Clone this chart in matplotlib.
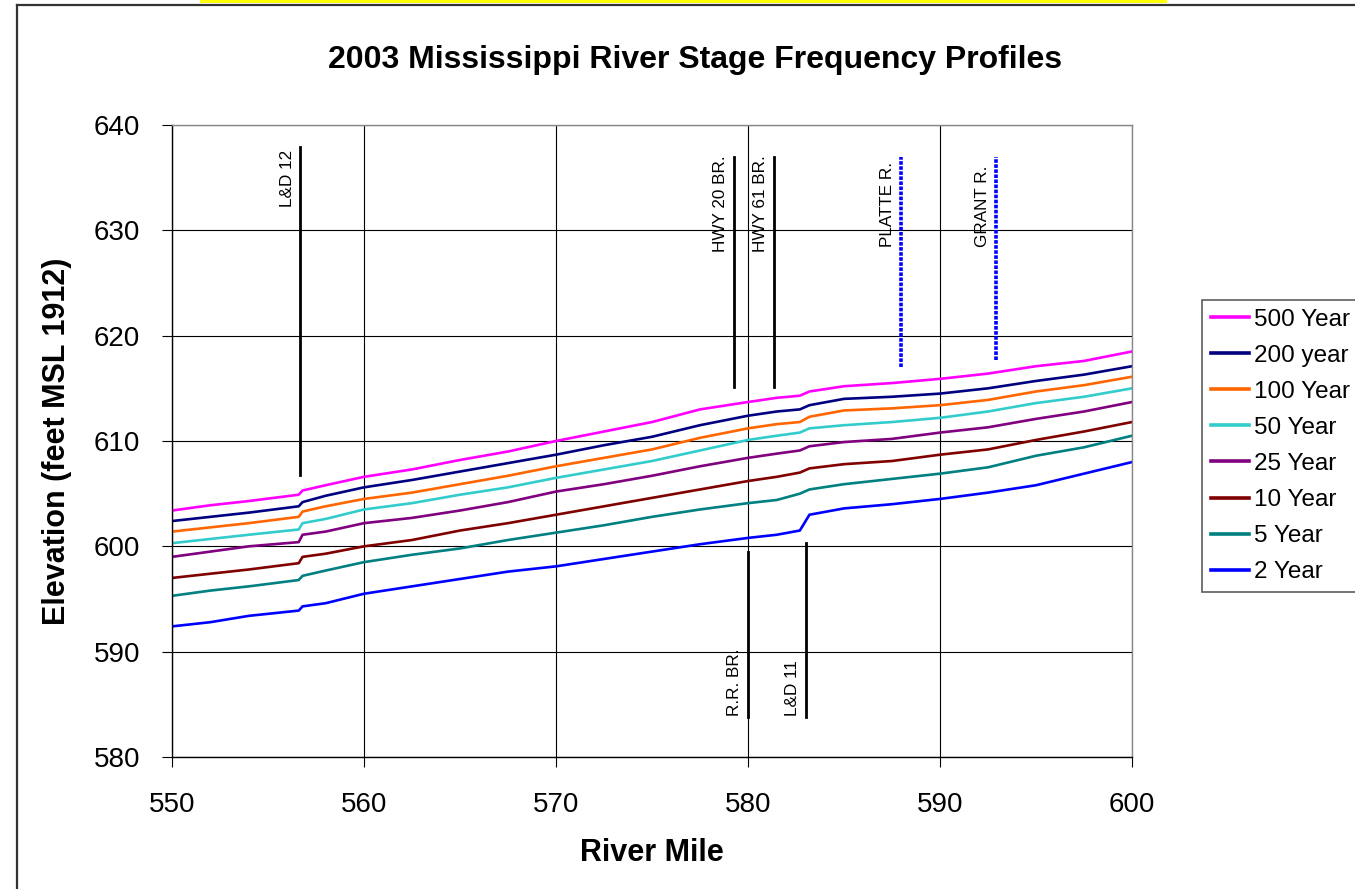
import matplotlib
matplotlib.use("Agg")
import matplotlib.pyplot as plt
from matplotlib.lines import Line2D
from matplotlib.patches import Rectangle
from matplotlib.transforms import offset_copy

plt.rcParams['font.family'] = ['Liberation Sans', 'DejaVu Sans']

# ---------------- data ----------------
miles = [550, 552, 554, 556.6, 556.8, 558, 560, 562.5, 565, 567.5, 570, 572.5,
         575, 577.5, 580, 581.5, 582.7, 583.2, 585, 587.5, 590, 592.5, 595, 597.5, 600]

yr500 = [603.4, 603.9, 604.3, 604.9, 605.3, 605.8, 606.6, 607.3, 608.2, 609.0, 610.0, 610.9,
         611.8, 613.0, 613.7, 614.1, 614.3, 614.7, 615.2, 615.5, 615.9, 616.4, 617.1, 617.6, 618.5]
yr200 = [602.4, 602.8, 603.2, 603.8, 604.2, 604.8, 605.6, 606.3, 607.1, 607.9, 608.7, 609.6,
         610.4, 611.5, 612.4, 612.8, 613.0, 613.4, 614.0, 614.2, 614.5, 615.0, 615.7, 616.3, 617.1]
yr100 = [601.4, 601.8, 602.2, 602.8, 603.3, 603.8, 604.5, 605.1, 605.9, 606.7, 607.6, 608.4,
         609.2, 610.3, 611.2, 611.6, 611.8, 612.3, 612.9, 613.1, 613.4, 613.9, 614.7, 615.3, 616.1]
yr50 = [600.3, 600.7, 601.1, 601.6, 602.2, 602.6, 603.5, 604.1, 604.9, 605.6, 606.5, 607.3,
        608.1, 609.1, 610.1, 610.5, 610.8, 611.2, 611.5, 611.8, 612.2, 612.8, 613.6, 614.2, 615.0]
yr25 = [599.0, 599.5, 600.0, 600.4, 601.1, 601.4, 602.2, 602.7, 603.4, 604.2, 605.2, 605.9,
        606.7, 607.6, 608.4, 608.8, 609.1, 609.5, 609.9, 610.2, 610.8, 611.3, 612.1, 612.8, 613.7]
yr10 = [597.0, 597.4, 597.8, 598.4, 599.0, 599.3, 600.0, 600.6, 601.5, 602.2, 603.0, 603.8,
        604.6, 605.4, 606.2, 606.6, 607.0, 607.4, 607.8, 608.1, 608.7, 609.2, 610.1, 610.9, 611.8]
yr5 = [595.3, 595.8, 596.2, 596.8, 597.2, 597.7, 598.5, 599.2, 599.8, 600.6, 601.3, 602.0,
       602.8, 603.5, 604.1, 604.4, 605.0, 605.4, 605.9, 606.4, 606.9, 607.5, 608.6, 609.4, 610.5]
yr2 = [592.4, 592.8, 593.4, 593.9, 594.3, 594.6, 595.5, 596.2, 596.9, 597.6, 598.1, 598.8,
       599.5, 600.2, 600.8, 601.1, 601.5, 603.0, 603.6, 604.0, 604.5, 605.1, 605.8, 606.9, 608.0]

series_names = ['500 Year', '200 year', '100 Year', '50 Year', '25 Year', '10 Year', '5 Year', '2 Year']
series_vals = [yr500, yr200, yr100, yr50, yr25, yr10, yr5, yr2]
series_colors = ['#FF00FF', '#000080', '#FF6600', '#33CCCC', '#800080', '#800000', '#008080', '#0000FF']

# landmark markers: label, river mile, y-start, y-end, label bottom
mark_labels = ['L&D 12', 'HWY 20 BR.', 'HWY 61 BR.', 'PLATTE R.', 'GRANT R.', 'R.R. BR.', 'L&D 11']
mark_miles = [556.67, 579.27, 581.35, 587.97, 592.9, 580.0, 583.0]
mark_y0 = [606.8, 615.1, 615.1, 617.0, 617.7, 583.8, 583.8]
mark_y1 = [637.9, 637.0, 637.0, 637.0, 637.0, 599.5, 600.3]
mark_text_bottom = [632.2, 627.9, 627.9, 628.4, 628.4, 583.9, 583.9]
mark_is_river = [False, False, False, True, True, False, False]

x_ticks = [550, 560, 570, 580, 590, 600]
y_ticks = [580, 590, 600, 610, 620, 630, 640]

# ---------------- figure ----------------
W, H = 1355, 889
fig = plt.figure(figsize=(W / 100, H / 100), dpi=100)

# page decorations
fig.patches.append(Rectangle((200 / W, 1 - 3 / H), 967 / W, 3 / H, transform=fig.transFigure,
                             facecolor='#FFFF00', edgecolor='none'))
fig.lines.append(Line2D([17 / W, 1], [1 - 5 / H, 1 - 5 / H], transform=fig.transFigure,
                        color='#333333', lw=1.6))
fig.lines.append(Line2D([17 / W, 17 / W], [0, 1 - 5 / H], transform=fig.transFigure,
                        color='#333333', lw=1.6))

ax = fig.add_axes([172 / W, 1 - 757 / H, 960 / W, 632 / H])

for name, vals, col in zip(series_names, series_vals, series_colors):
    ax.plot(miles, vals, color=col, lw=1.9, label=name, solid_joinstyle='round')

for lab, m, y0, y1, yb, riv in zip(mark_labels, mark_miles, mark_y0, mark_y1,
                                   mark_text_bottom, mark_is_river):
    if riv:
        ax.plot([m, m], [y0, y1], color='#0000FF', lw=2.6, linestyle=(0, (1, 0.4)),
                solid_capstyle='butt', dash_capstyle='butt')
    else:
        ax.plot([m, m], [y0, y1], color='black', lw=2.0)
    tr = offset_copy(ax.transData, fig=fig, x=-4, y=0, units='points')
    ax.text(m, yb, lab, rotation=90, ha='right', va='bottom', fontsize=12.3, transform=tr)

ax.set_xlim(550, 600)
ax.set_ylim(580, 640)
ax.set_xticks(x_ticks)
ax.set_yticks(y_ticks)
ax.grid(True, color='black', lw=0.8)
ax.set_axisbelow(True)
for s in ['top', 'right']:
    ax.spines[s].set_color('#888888')
    ax.spines[s].set_linewidth(1.0)
for s in ['left', 'bottom']:
    ax.spines[s].set_color('black')
    ax.spines[s].set_linewidth(1.0)
ax.tick_params(axis='both', direction='out', length=7, width=0.8, labelsize=20)
ax.tick_params(axis='x', pad=18)
ax.tick_params(axis='y', pad=16)

fig.text(695 / W, 1 - 60 / H, '2003 Mississippi River Stage Frequency Profiles',
         ha='center', va='center', fontsize=23, fontweight='bold')
fig.text(652 / W, 1 - 853 / H, 'River Mile', ha='center', va='center', fontsize=22, fontweight='bold')
fig.text(57 / W, 1 - 441 / H, 'Elevation (feet MSL 1912)', ha='center', va='center',
         rotation=90, fontsize=22, fontweight='bold')

leg = fig.legend(loc='upper left', bbox_to_anchor=(1202 / W, 1 - 300 / H),
                 bbox_transform=fig.transFigure, fontsize=17.5, frameon=True, fancybox=False,
                 handlelength=1.6, handletextpad=0.2, labelspacing=0.58, borderpad=0.35,
                 borderaxespad=0)
leg.get_frame().set_edgecolor('#333333')
leg.get_frame().set_linewidth(1.2)
for ln in leg.get_lines():
    ln.set_linewidth(2.6)

fig.savefig('out.png', dpi=100)
